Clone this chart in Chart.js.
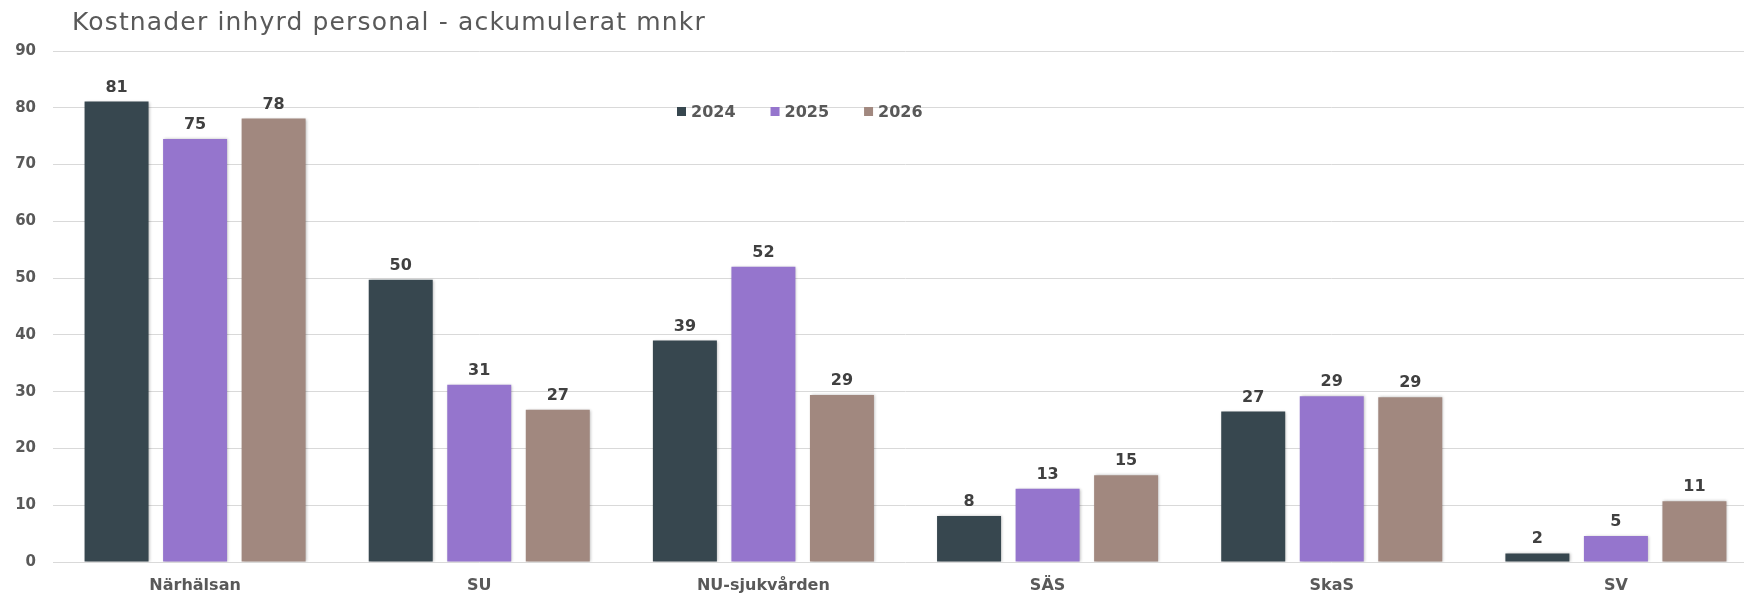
<!DOCTYPE html>
<html>
<head>
<meta charset="utf-8">
<script src="https://cdn.jsdelivr.net/npm/chart.js@4.4.1/dist/chart.umd.min.js"></script>
<style>
  html, body { margin: 0; padding: 0; background: #fff; overflow: hidden; }
  #wrap { width: 1758px; height: 593px; position: relative; }
</style>
</head>
<body>
<div id="wrap"><canvas id="chart"></canvas></div>
<script>
const title = 'Kostnader inhyrd personal - ackumulerat mnkr';
const categories = ['Närhälsan', 'SU', 'NU-sjukvården', 'SÄS', 'SkaS', 'SV'];
const seriesNames = ['2024', '2025', '2026'];
const values2024 = [81.1, 49.7, 39.0, 8.1, 26.5, 1.5];
const values2025 = [74.5, 31.2, 52.0, 12.9, 29.2, 4.6];
const values2026 = [78.1, 26.8, 29.4, 15.3, 29.0, 10.7];
const colors = ['#37474f', '#9575cd', '#a1887f'];
const yTicks = { min: 0, max: 90, step: 10 };

const FONT = '"DejaVu Sans", Verdana, sans-serif';

// title, legend, shadows and value labels are drawn here
const extras = {
    id: 'extras',
    beforeDatasetsDraw(chart) {
        const ctx = chart.ctx;
        ctx.save();
        ctx.shadowColor = 'rgba(0,0,0,0.28)';
        ctx.shadowBlur = 3;
        ctx.shadowOffsetX = 1;
        ctx.shadowOffsetY = 0;
    },
    afterDatasetsDraw(chart) {
        const ctx = chart.ctx;
        ctx.restore();

        // value labels
        ctx.save();
        ctx.font = 'bold 16px ' + FONT;
        ctx.fillStyle = '#404040';
        ctx.textAlign = 'center';
        ctx.textBaseline = 'alphabetic';
        chart.data.datasets.forEach((ds, i) => {
            chart.getDatasetMeta(i).data.forEach((bar, j) => {
                ctx.fillText(String(Math.round(ds.data[j])), bar.x, bar.y - 10);
            });
        });
        ctx.restore();
    },
    afterDraw(chart) {
        const ctx = chart.ctx;
        ctx.save();
        // title
        ctx.font = '25px ' + FONT;
        ctx.letterSpacing = '1.15px';
        ctx.fillStyle = '#595959';
        ctx.textAlign = 'left';
        ctx.textBaseline = 'alphabetic';
        ctx.fillText(title, 72, 30);
        ctx.letterSpacing = '0px';

        // legend
        ctx.font = 'bold 16px ' + FONT;
        let x = 677;
        chart.data.datasets.forEach((ds) => {
            ctx.fillStyle = ds.backgroundColor;
            ctx.fillRect(x, 107, 9, 9);
            ctx.fillStyle = '#595959';
            ctx.fillText(ds.label, x + 14, 117);
            x += 14 + ctx.measureText(ds.label).width + 35;
        });
        ctx.restore();
    }
};

const datasets = [values2024, values2025, values2026].map((vals, i) => ({
    label: seriesNames[i],
    data: vals,
    backgroundColor: colors[i],
    borderWidth: 0,
    categoryPercentage: 0.829,
    barPercentage: 0.815
}));

new Chart(document.getElementById('chart'), {
    type: 'bar',
    data: { labels: categories, datasets: datasets },
    options: {
        responsive: true,
        maintainAspectRatio: false,
        animation: false,
        layout: { padding: { top: 51, left: 0, right: 0, bottom: 0 } },
        plugins: {
            legend: { display: false },
            title: { display: false },
            tooltip: { enabled: false }
        },
        scales: {
            y: {
                min: yTicks.min,
                max: yTicks.max,
                ticks: {
                    stepSize: yTicks.step,
                    color: '#595959',
                    font: { family: FONT, size: 15, weight: 'bold' },
                    padding: 17
                },
                grid: { color: '#d9d9d9', drawTicks: false },
                border: { display: false },
                afterFit(scale) { scale.width = 53; }
            },
            x: {
                ticks: {
                    color: '#595959',
                    font: { family: FONT, size: 16, weight: 'bold' },
                    padding: 14
                },
                grid: { display: false, drawTicks: false },
                border: { display: false },
                afterFit(scale) { scale.height = 31; }
            }
        }
    },
    plugins: [extras]
});
</script>
</body>
</html>
